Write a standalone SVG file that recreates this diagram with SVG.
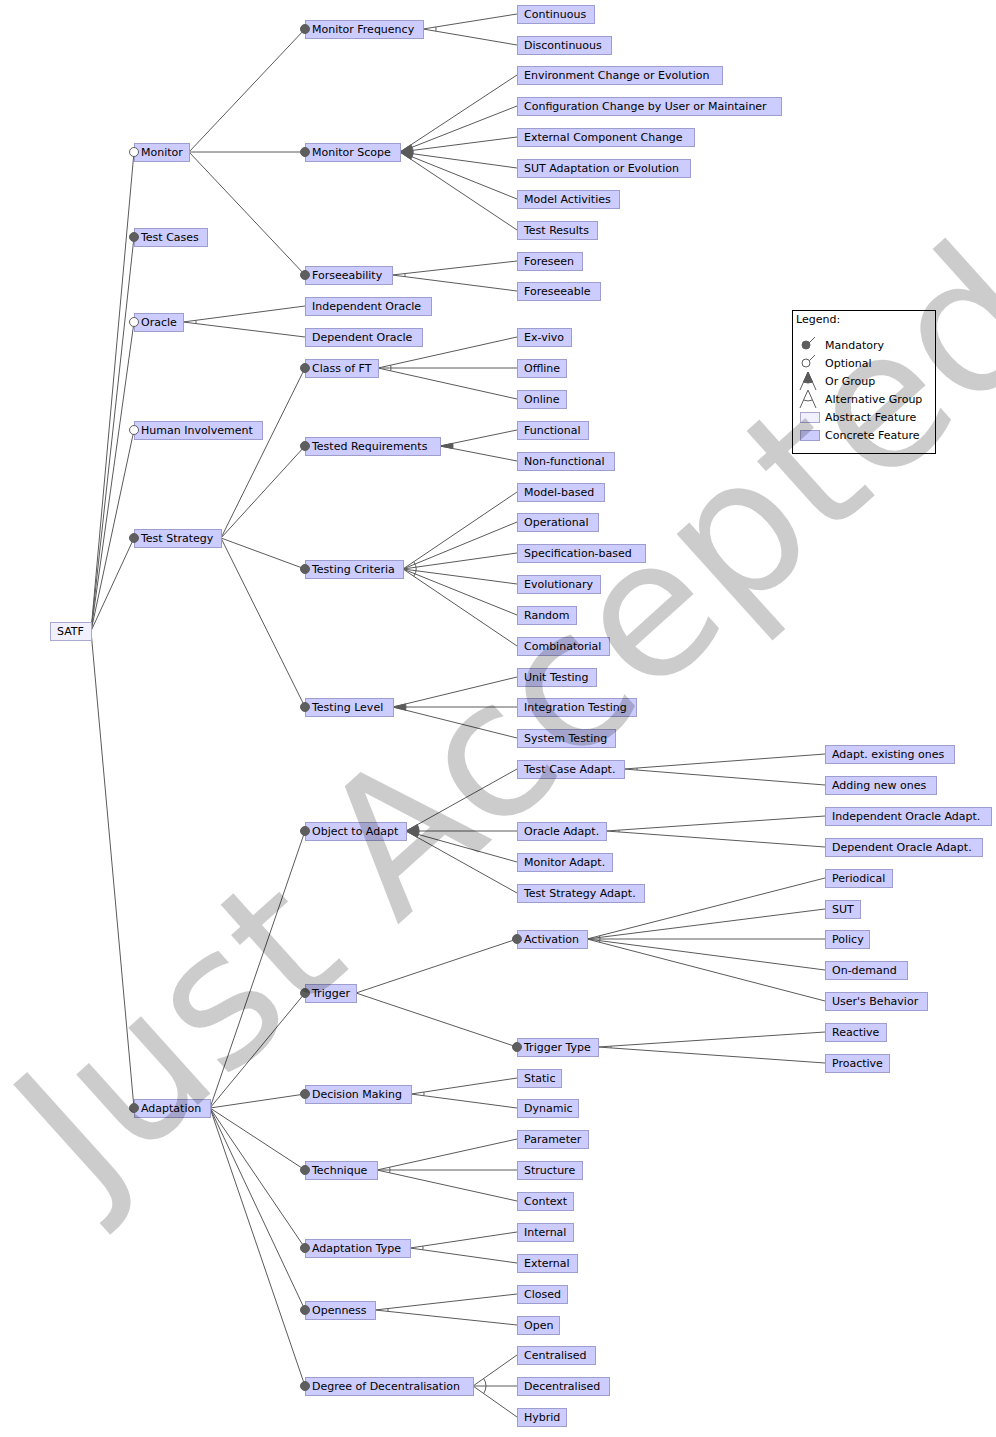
<svg xmlns="http://www.w3.org/2000/svg" width="996" height="1437" viewBox="0 0 996 1437">
<style>
text{font-family:"DejaVu Sans","Liberation Sans",sans-serif;font-size:11px;fill:#000}
.c{fill:#ccccff;stroke:#9d9dd0;stroke-width:1}
.a{fill:#f0f0ff;stroke:#a8a8d0;stroke-width:1}
#connectors line{stroke:#5a5a5a;stroke-width:1}
.alt{fill:none;stroke:#5a5a5a;stroke-width:1}
.or{fill:#5a5a5a;stroke:#5a5a5a;stroke-width:1}
.m{fill:#5e5e5e;stroke:#5e5e5e;stroke-width:1}
.o{fill:#fff;stroke:#5e5e5e;stroke-width:1}
.wm{font-family:"DejaVu Sans",sans-serif;font-size:190px;fill:#000;fill-opacity:0.2}
</style>
<rect width="996" height="1437" fill="#fff"/>
<g id="connectors">
<line x1="91" y1="631" x2="134" y2="152"/><line x1="91" y1="631" x2="134" y2="237"/><line x1="91" y1="631" x2="134" y2="322"/><line x1="91" y1="631" x2="134" y2="430"/><line x1="91" y1="631" x2="134" y2="538"/><line x1="91" y1="631" x2="134" y2="1108"/>
<line x1="189" y1="152" x2="305" y2="29"/><line x1="189" y1="152" x2="305" y2="152"/><line x1="189" y1="152" x2="305" y2="275"/>
<line x1="423" y1="29" x2="517" y2="14"/><line x1="423" y1="29" x2="517" y2="45"/>
<line x1="400" y1="152" x2="517" y2="75"/><line x1="400" y1="152" x2="517" y2="106"/><line x1="400" y1="152" x2="517" y2="137"/><line x1="400" y1="152" x2="517" y2="168"/><line x1="400" y1="152" x2="517" y2="199"/><line x1="400" y1="152" x2="517" y2="230"/>
<line x1="392" y1="275" x2="517" y2="261"/><line x1="392" y1="275" x2="517" y2="291"/>
<line x1="183" y1="322" x2="305" y2="306"/><line x1="183" y1="322" x2="305" y2="337"/>
<line x1="221" y1="538" x2="305" y2="368"/><line x1="221" y1="538" x2="305" y2="446"/><line x1="221" y1="538" x2="305" y2="569"/><line x1="221" y1="538" x2="305" y2="707"/>
<line x1="378" y1="368" x2="517" y2="337"/><line x1="378" y1="368" x2="517" y2="368"/><line x1="378" y1="368" x2="517" y2="399"/>
<line x1="440" y1="446" x2="517" y2="430"/><line x1="440" y1="446" x2="517" y2="461"/>
<line x1="403" y1="569" x2="517" y2="492"/><line x1="403" y1="569" x2="517" y2="522"/><line x1="403" y1="569" x2="517" y2="553"/><line x1="403" y1="569" x2="517" y2="584"/><line x1="403" y1="569" x2="517" y2="615"/><line x1="403" y1="569" x2="517" y2="646"/>
<line x1="393" y1="707" x2="517" y2="677"/><line x1="393" y1="707" x2="517" y2="707"/><line x1="393" y1="707" x2="517" y2="738"/>
<line x1="210" y1="1108" x2="305" y2="831"/><line x1="210" y1="1108" x2="305" y2="993"/><line x1="210" y1="1108" x2="305" y2="1094"/><line x1="210" y1="1108" x2="305" y2="1170"/><line x1="210" y1="1108" x2="305" y2="1248"/><line x1="210" y1="1108" x2="305" y2="1310"/><line x1="210" y1="1108" x2="305" y2="1386"/>
<line x1="406" y1="831" x2="517" y2="769"/><line x1="406" y1="831" x2="517" y2="831"/><line x1="406" y1="831" x2="517" y2="862"/><line x1="406" y1="831" x2="517" y2="893"/>
<line x1="624" y1="769" x2="825" y2="754"/><line x1="624" y1="769" x2="825" y2="785"/>
<line x1="606" y1="831" x2="825" y2="816"/><line x1="606" y1="831" x2="825" y2="847"/>
<line x1="356" y1="993" x2="517" y2="939"/><line x1="356" y1="993" x2="517" y2="1047"/>
<line x1="587" y1="939" x2="825" y2="878"/><line x1="587" y1="939" x2="825" y2="909"/><line x1="587" y1="939" x2="825" y2="939"/><line x1="587" y1="939" x2="825" y2="970"/><line x1="587" y1="939" x2="825" y2="1001"/>
<line x1="598" y1="1047" x2="825" y2="1032"/><line x1="598" y1="1047" x2="825" y2="1063"/>
<line x1="411" y1="1094" x2="517" y2="1078"/><line x1="411" y1="1094" x2="517" y2="1108"/>
<line x1="377" y1="1170" x2="517" y2="1139"/><line x1="377" y1="1170" x2="517" y2="1170"/><line x1="377" y1="1170" x2="517" y2="1201"/>
<line x1="410" y1="1248" x2="517" y2="1232"/><line x1="410" y1="1248" x2="517" y2="1263"/>
<line x1="375" y1="1310" x2="517" y2="1294"/><line x1="375" y1="1310" x2="517" y2="1325"/>
<line x1="473" y1="1386" x2="517" y2="1355"/><line x1="473" y1="1386" x2="517" y2="1386"/><line x1="473" y1="1386" x2="517" y2="1417"/>
<path class="alt" d="M435.84,26.95 A13,13 0 0 1 435.82,31.18"/>
<path class="or" d="M400,152 L410.86,144.85 A13,13 0 0 1 410.81,159.21 Z"/>
<path class="alt" d="M404.92,273.55 A13,13 0 0 1 404.89,276.65"/>
<path class="alt" d="M195.89,320.31 A13,13 0 0 1 195.90,323.59"/>
<path class="alt" d="M390.69,365.17 A13,13 0 0 1 390.69,370.83"/>
<path class="or" d="M440,446 L452.73,443.35 A13,13 0 0 1 452.76,448.49 Z"/>
<path class="alt" d="M413.77,561.72 A13,13 0 0 1 413.77,576.28"/>
<path class="or" d="M393,707 L405.64,703.94 A13,13 0 0 1 405.61,710.15 Z"/>
<path class="alt" d="M636.96,768.03 A13,13 0 0 1 636.96,770.03"/>
<path class="or" d="M406,831 L417.35,824.66 A13,13 0 0 1 417.35,837.34 Z"/>
<path class="alt" d="M618.97,830.11 A13,13 0 0 1 618.96,831.95"/>
<path class="alt" d="M599.59,935.77 A13,13 0 0 1 599.58,942.28"/>
<path class="alt" d="M610.97,1046.14 A13,13 0 0 1 610.97,1047.91"/>
<path class="alt" d="M423.85,1092.06 A13,13 0 0 1 423.89,1095.70"/>
<path class="alt" d="M389.69,1167.19 A13,13 0 0 1 389.69,1172.81"/>
<path class="alt" d="M422.86,1246.08 A13,13 0 0 1 422.87,1249.80"/>
<path class="alt" d="M387.92,1308.54 A13,13 0 0 1 387.93,1311.37"/>
<path class="alt" d="M483.63,1378.51 A13,13 0 0 1 483.63,1393.49"/>
</g>
<g id="nodes">
<g id="n-satf"><rect class="a" x="50.5" y="622.5" width="41" height="18"/><text x="57" y="635">SATF</text></g>
<g id="n-monitor"><rect class="c" x="134.5" y="143.5" width="55" height="18"/><text x="141" y="156">Monitor</text></g>
<g id="n-testcases"><rect class="c" x="134.5" y="228.5" width="73" height="18"/><text x="141" y="241">Test Cases</text></g>
<g id="n-oracle"><rect class="c" x="134.5" y="313.5" width="49" height="18"/><text x="141" y="326">Oracle</text></g>
<g id="n-human"><rect class="c" x="134.5" y="421.5" width="128" height="18"/><text x="141" y="434">Human Involvement</text></g>
<g id="n-teststrategy"><rect class="c" x="134.5" y="529.5" width="87" height="18"/><text x="141" y="542">Test Strategy</text></g>
<g id="n-adaptation"><rect class="c" x="134.5" y="1099.5" width="76" height="18"/><text x="141" y="1112">Adaptation</text></g>
<g id="n-monfreq"><rect class="c" x="305.5" y="20.5" width="118" height="18"/><text x="312" y="33">Monitor Frequency</text></g>
<g id="n-monscope"><rect class="c" x="305.5" y="143.5" width="95" height="18"/><text x="312" y="156">Monitor Scope</text></g>
<g id="n-forsee"><rect class="c" x="305.5" y="266.5" width="87" height="18"/><text x="312" y="279">Forseeability</text></g>
<g id="n-indoracle"><rect class="c" x="305.5" y="297.5" width="126" height="18"/><text x="312" y="310">Independent Oracle</text></g>
<g id="n-deporacle"><rect class="c" x="305.5" y="328.5" width="117" height="18"/><text x="312" y="341">Dependent Oracle</text></g>
<g id="n-classft"><rect class="c" x="305.5" y="359.5" width="73" height="18"/><text x="312" y="372">Class of FT</text></g>
<g id="n-testedreq"><rect class="c" x="305.5" y="437.5" width="135" height="18"/><text x="312" y="450">Tested Requirements</text></g>
<g id="n-testcrit"><rect class="c" x="305.5" y="560.5" width="98" height="18"/><text x="312" y="573">Testing Criteria</text></g>
<g id="n-testlevel"><rect class="c" x="305.5" y="698.5" width="88" height="18"/><text x="312" y="711">Testing Level</text></g>
<g id="n-objadapt"><rect class="c" x="305.5" y="822.5" width="101" height="18"/><text x="312" y="835">Object to Adapt</text></g>
<g id="n-trigger"><rect class="c" x="305.5" y="984.5" width="51" height="18"/><text x="312" y="997">Trigger</text></g>
<g id="n-decision"><rect class="c" x="305.5" y="1085.5" width="106" height="18"/><text x="312" y="1098">Decision Making</text></g>
<g id="n-technique"><rect class="c" x="305.5" y="1161.5" width="72" height="18"/><text x="312" y="1174">Technique</text></g>
<g id="n-adapttype"><rect class="c" x="305.5" y="1239.5" width="105" height="18"/><text x="312" y="1252">Adaptation Type</text></g>
<g id="n-openness"><rect class="c" x="305.5" y="1301.5" width="70" height="18"/><text x="312" y="1314">Openness</text></g>
<g id="n-degree"><rect class="c" x="305.5" y="1377.5" width="168" height="18"/><text x="312" y="1390">Degree of Decentralisation</text></g>
<g id="n-continuous"><rect class="c" x="517.5" y="5.5" width="77" height="18"/><text x="524" y="18">Continuous</text></g>
<g id="n-discontinuous"><rect class="c" x="517.5" y="36.5" width="94" height="18"/><text x="524" y="49">Discontinuous</text></g>
<g id="n-envchange"><rect class="c" x="517.5" y="66.5" width="205" height="18"/><text x="524" y="79">Environment Change or Evolution</text></g>
<g id="n-configchange"><rect class="c" x="517.5" y="97.5" width="264" height="18"/><text x="524" y="110">Configuration Change by User or Maintainer</text></g>
<g id="n-extcomp"><rect class="c" x="517.5" y="128.5" width="177" height="18"/><text x="524" y="141">External Component Change</text></g>
<g id="n-sutadapt"><rect class="c" x="517.5" y="159.5" width="173" height="18"/><text x="524" y="172">SUT Adaptation or Evolution</text></g>
<g id="n-modelact"><rect class="c" x="517.5" y="190.5" width="102" height="18"/><text x="524" y="203">Model Activities</text></g>
<g id="n-testresults"><rect class="c" x="517.5" y="221.5" width="80" height="18"/><text x="524" y="234">Test Results</text></g>
<g id="n-foreseen"><rect class="c" x="517.5" y="252.5" width="65" height="18"/><text x="524" y="265">Foreseen</text></g>
<g id="n-foreseeable"><rect class="c" x="517.5" y="282.5" width="83" height="18"/><text x="524" y="295">Foreseeable</text></g>
<g id="n-exvivo"><rect class="c" x="517.5" y="328.5" width="54" height="18"/><text x="524" y="341">Ex-vivo</text></g>
<g id="n-offline"><rect class="c" x="517.5" y="359.5" width="49" height="18"/><text x="524" y="372">Offline</text></g>
<g id="n-online"><rect class="c" x="517.5" y="390.5" width="49" height="18"/><text x="524" y="403">Online</text></g>
<g id="n-functional"><rect class="c" x="517.5" y="421.5" width="71" height="18"/><text x="524" y="434">Functional</text></g>
<g id="n-nonfunctional"><rect class="c" x="517.5" y="452.5" width="97" height="18"/><text x="524" y="465">Non-functional</text></g>
<g id="n-modelbased"><rect class="c" x="517.5" y="483.5" width="87" height="18"/><text x="524" y="496">Model-based</text></g>
<g id="n-operational"><rect class="c" x="517.5" y="513.5" width="81" height="18"/><text x="524" y="526">Operational</text></g>
<g id="n-specbased"><rect class="c" x="517.5" y="544.5" width="128" height="18"/><text x="524" y="557">Specification-based</text></g>
<g id="n-evolutionary"><rect class="c" x="517.5" y="575.5" width="83" height="18"/><text x="524" y="588">Evolutionary</text></g>
<g id="n-random"><rect class="c" x="517.5" y="606.5" width="59" height="18"/><text x="524" y="619">Random</text></g>
<g id="n-combinatorial"><rect class="c" x="517.5" y="637.5" width="92" height="18"/><text x="524" y="650">Combinatorial</text></g>
<g id="n-unit"><rect class="c" x="517.5" y="668.5" width="79" height="18"/><text x="524" y="681">Unit Testing</text></g>
<g id="n-integration"><rect class="c" x="517.5" y="698.5" width="119" height="18"/><text x="524" y="711">Integration Testing</text></g>
<g id="n-system"><rect class="c" x="517.5" y="729.5" width="98" height="18"/><text x="524" y="742">System Testing</text></g>
<g id="n-tcadapt"><rect class="c" x="517.5" y="760.5" width="107" height="18"/><text x="524" y="773">Test Case Adapt.</text></g>
<g id="n-oracleadapt"><rect class="c" x="517.5" y="822.5" width="89" height="18"/><text x="524" y="835">Oracle Adapt.</text></g>
<g id="n-monadapt"><rect class="c" x="517.5" y="853.5" width="95" height="18"/><text x="524" y="866">Monitor Adapt.</text></g>
<g id="n-tsadapt"><rect class="c" x="517.5" y="884.5" width="127" height="18"/><text x="524" y="897">Test Strategy Adapt.</text></g>
<g id="n-activation"><rect class="c" x="517.5" y="930.5" width="70" height="18"/><text x="524" y="943">Activation</text></g>
<g id="n-triggertype"><rect class="c" x="517.5" y="1038.5" width="81" height="18"/><text x="524" y="1051">Trigger Type</text></g>
<g id="n-static"><rect class="c" x="517.5" y="1069.5" width="44" height="18"/><text x="524" y="1082">Static</text></g>
<g id="n-dynamic"><rect class="c" x="517.5" y="1099.5" width="61" height="18"/><text x="524" y="1112">Dynamic</text></g>
<g id="n-parameter"><rect class="c" x="517.5" y="1130.5" width="71" height="18"/><text x="524" y="1143">Parameter</text></g>
<g id="n-structure"><rect class="c" x="517.5" y="1161.5" width="65" height="18"/><text x="524" y="1174">Structure</text></g>
<g id="n-context"><rect class="c" x="517.5" y="1192.5" width="56" height="18"/><text x="524" y="1205">Context</text></g>
<g id="n-internal"><rect class="c" x="517.5" y="1223.5" width="56" height="18"/><text x="524" y="1236">Internal</text></g>
<g id="n-external"><rect class="c" x="517.5" y="1254.5" width="60" height="18"/><text x="524" y="1267">External</text></g>
<g id="n-closed"><rect class="c" x="517.5" y="1285.5" width="50" height="18"/><text x="524" y="1298">Closed</text></g>
<g id="n-open"><rect class="c" x="517.5" y="1316.5" width="42" height="18"/><text x="524" y="1329">Open</text></g>
<g id="n-centralised"><rect class="c" x="517.5" y="1346.5" width="78" height="18"/><text x="524" y="1359">Centralised</text></g>
<g id="n-decentralised"><rect class="c" x="517.5" y="1377.5" width="92" height="18"/><text x="524" y="1390">Decentralised</text></g>
<g id="n-hybrid"><rect class="c" x="517.5" y="1408.5" width="49" height="18"/><text x="524" y="1421">Hybrid</text></g>
<g id="n-adaptexisting"><rect class="c" x="825.5" y="745.5" width="129" height="18"/><text x="832" y="758">Adapt. existing ones</text></g>
<g id="n-addingnew"><rect class="c" x="825.5" y="776.5" width="111" height="18"/><text x="832" y="789">Adding new ones</text></g>
<g id="n-indoracleadapt"><rect class="c" x="825.5" y="807.5" width="166" height="18"/><text x="832" y="820">Independent Oracle Adapt.</text></g>
<g id="n-deporacleadapt"><rect class="c" x="825.5" y="838.5" width="157" height="18"/><text x="832" y="851">Dependent Oracle Adapt.</text></g>
<g id="n-periodical"><rect class="c" x="825.5" y="869.5" width="67" height="18"/><text x="832" y="882">Periodical</text></g>
<g id="n-sut"><rect class="c" x="825.5" y="900.5" width="35" height="18"/><text x="832" y="913">SUT</text></g>
<g id="n-policy"><rect class="c" x="825.5" y="930.5" width="44" height="18"/><text x="832" y="943">Policy</text></g>
<g id="n-ondemand"><rect class="c" x="825.5" y="961.5" width="82" height="18"/><text x="832" y="974">On-demand</text></g>
<g id="n-usersbehavior"><rect class="c" x="825.5" y="992.5" width="102" height="18"/><text x="832" y="1005">User's Behavior</text></g>
<g id="n-reactive"><rect class="c" x="825.5" y="1023.5" width="61" height="18"/><text x="832" y="1036">Reactive</text></g>
<g id="n-proactive"><rect class="c" x="825.5" y="1054.5" width="64" height="18"/><text x="832" y="1067">Proactive</text></g>
</g>
<g id="markers">
<circle class="o" cx="134" cy="152" r="4.5"/><circle class="m" cx="134" cy="237" r="4.5"/><circle class="o" cx="134" cy="322" r="4.5"/><circle class="o" cx="134" cy="430" r="4.5"/><circle class="m" cx="134" cy="538" r="4.5"/><circle class="m" cx="134" cy="1108" r="4.5"/>
<circle class="m" cx="305" cy="29" r="4.5"/><circle class="m" cx="305" cy="152" r="4.5"/><circle class="m" cx="305" cy="275" r="4.5"/>
<circle class="m" cx="305" cy="368" r="4.5"/><circle class="m" cx="305" cy="446" r="4.5"/><circle class="m" cx="305" cy="569" r="4.5"/><circle class="m" cx="305" cy="707" r="4.5"/>
<circle class="m" cx="305" cy="831" r="4.5"/><circle class="m" cx="305" cy="993" r="4.5"/><circle class="m" cx="305" cy="1094" r="4.5"/><circle class="m" cx="305" cy="1170" r="4.5"/><circle class="m" cx="305" cy="1248" r="4.5"/><circle class="m" cx="305" cy="1310" r="4.5"/><circle class="m" cx="305" cy="1386" r="4.5"/>
<circle class="m" cx="517" cy="939" r="4.5"/><circle class="m" cx="517" cy="1047" r="4.5"/>
</g>
<g id="legend">
<rect x="792.5" y="310.5" width="143" height="143" fill="#fff" stroke="#000" stroke-width="1"/>
<text x="796" y="323">Legend:</text>
<line x1="807" y1="345" x2="815" y2="337" stroke="#5e5e5e"/><circle class="m" cx="806" cy="345" r="4"/>
<text x="825" y="349">Mandatory</text>
<line x1="807" y1="363" x2="815" y2="355" stroke="#5e5e5e"/><circle class="o" cx="806" cy="363" r="4"/>
<text x="825" y="367">Optional</text>
<path d="M808,372 L800,390 M808,372 L816,390" stroke="#5e5e5e" fill="none"/><path class="or" d="M808,372 L803.5,382 A11,11 0 0 0 812.5,382 Z"/>
<text x="825" y="385">Or Group</text>
<path d="M808,390 L800,408 M808,390 L816,408" stroke="#5e5e5e" fill="none"/><path class="alt" d="M803.5,400 A11,11 0 0 0 812.5,400"/>
<text x="825" y="403">Alternative Group</text>
<rect class="a" x="800.5" y="412.5" width="19" height="10"/>
<text x="825" y="421">Abstract Feature</text>
<rect class="c" x="800.5" y="430.5" width="19" height="10"/>
<text x="825" y="439">Concrete Feature</text>
</g>
<text class="wm" x="92" y="1200" transform="rotate(-42 92 1200)">Just Accepted</text>
</svg>
